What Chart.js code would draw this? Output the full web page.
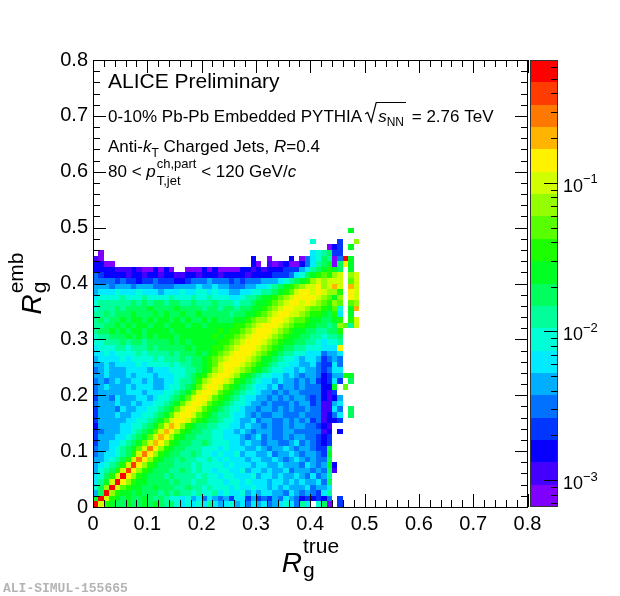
<!DOCTYPE html>
<html>
<head>
<meta charset="UTF-8">
<title>Rg emb vs Rg true</title>
<script src="https://cdn.jsdelivr.net/npm/chart.js"></script>
<style>
  html, body { margin: 0; padding: 0; background: #fff; }
  canvas { display: block; }
</style>
</head>
<body>
<canvas id="rgChart" width="620" height="596"></canvas>
<script>
// bin width in R_g^true and R_g^emb
const binWidth = 0.01;
// z (colour) axis range, log scale with 20 contour levels
const zMin = 6.6e-4;
const zMax = 0.67;
const nLevels = 20;
// colour level for every bin: 0-9 then a-j (0 = violet ... j = red), '.' = empty
// one row per R_g^emb bin, top row (0.49-0.50) first; 5 groups of 10 columns, R_g^true = 0.00 ... 0.49
const levelRows = [
  ['..........', '..........', '..........', '..........', '.......a..'],
  ['..........', '..........', '..........', '..........', '..........'],
  ['..........', '..........', '..........', '..........', '7....3..d.'],
  ['..........', '..........', '..........', '..........', '...023.a..'],
  ['.0........', '..........', '..........', '..........', '678933....'],
  ['10........', '..........', '.........2', '..0...2.04', '679804ja..'],
  ['2200......', '..........', '.........2', '0.10120024', '689a09fa..'],
  ['2222111210', '02020..000', '2020000221', '2122233356', '89aba9.a..'],
  ['4322221221', '2212211221', '2221222212', '2223334679', 'abcbde.de.'],
  ['4444343323', '3433322344', '4544434344', '45556789ab', 'dedeee.ce.'],
  ['5554555455', '5444455556', '5565544455', '66789abcde', 'efdege.ge.'],
  ['5666766676', '6656667667', '7676655667', '7889abceff', 'efeddb.fe.'],
  ['6777787778', '7777877787', '7877766788', '9aabcdefff', 'fedcad.fe.'],
  ['7888888989', '8998998898', '8898887889', 'aabcdeffef', 'edcbdc.cd.'],
  ['7888989999', 'a9999a9999', '899899899a', 'abcdeffeed', 'ccbac7.ag.'],
  ['8898999a99', '9a9a99a99a', '99999899aa', 'bcdeffeedc', 'bba9b6.a..'],
  ['89899a9aa9', 'a9aa9a9a99', 'a9a999aabc', 'ddeffedccb', 'aa99ab.be.'],
  ['8899a9a9aa', '9aa9aaa9aa', '9aaaaabbcd', 'efffedcbba', 'a9989dc8e.'],
  ['899a9a9aa9', 'aaaa9aaaaa', 'aaababbcde', 'fffedcbaa9', '98899b....'],
  ['788999a9a9', 'a9aaa9aaaa', 'aababbcdef', 'ffedcbaa99', '887889....'],
  ['7788898998', '9999a9a9aa', 'aaabbcdeff', 'fedcbaa998', '876778....'],
  ['6777887888', '9899999a9a', 'aabbcdefff', 'edcba99887', '77666f....'],
  ['6676777787', '888898999a', '9abcdefffe', 'dcba988776', '664556....'],
  ['5666676777', '7878889899', 'abcdefffed', 'caa9877656', '653454....'],
  ['5565666676', '7777878899', 'abcefffedc', 'ba98776655', '643364....'],
  ['4565556666', '5666777889', 'abdeffedcb', 'a987766565', '543466....'],
  ['5565556566', '656667789a', 'bdeffedba9', '8776656545', '542355ba..'],
  ['4545655665', '655667889b', 'deffedba98', '7665655454', '532363.9..'],
  ['4565556566', '65567789ac', 'effecba987', '6656455454', '4422a.c...'],
  ['4555556665', '6667789ace', 'ffecba9877', '6554545544', '44213.....'],
  ['3554655566', '567789acef', 'fecba98766', '5545454554', '342125....'],
  ['4555655656', '67789aceff', 'ecba987765', '5454445455', '341156....'],
  ['3555465566', '7789aceffe', 'cba9877655', '4554545445', '441164.9..'],
  ['3555655667', '789aceffec', 'ba98876654', '5445544454', '441246.9..'],
  ['3555556677', '89aceffecb', 'a998776556', '4554454545', '341223....'],
  ['2555566778', '9acegfdba9', '9887766565', '5454454554', '4321......'],
  ['3455566789', 'acegfdba99', '8877665654', '5554455444', '4412.2....'],
  ['355566789a', 'cegfdba998', '8877666545', '6454454554', '4323......'],
  ['35566789ac', 'egfdba9988', '9877766565', '5455445645', '4323......'],
  ['4556789ace', 'hfdba99888', '7776766655', '6545565455', '4339......'],
  ['4566789beh', 'fdba998898', '7767667566', '5564556545', '543a......'],
  ['556789behf', 'dba9989887', '7876766656', '6556545654', '5449......'],
  ['56789beifd', 'ba99988878', '7777676665', '6655655546', '545a2.....'],
  ['5789beifdb', 'a999889878', '7767766756', '6565564555', '45491.....'],
  ['679bejfdba', '9998988887', '8776776667', '5665655654', '6458......'],
  ['68aejfdbaa', '9999898878', '8777677676', '6656656565', '5649......'],
  ['79djecbaa9', '9a99988988', '7877767667', '6656565556', '4556......'],
  ['59jdbaa9a9', '9989898878', '7786766756', '5665546545', '4368......'],
  ['ajeba9a99a', '9898776756', '4654536635', '3435465423', '2324.3....'],
  ['jeba99a99a', '9a98976767', '6865675646', '5645676486', '.790.3....']
];
// axis tick values (both axes) and labelled decades of the colour axis
const axisTicks = [0, 0.1, 0.2, 0.3, 0.4, 0.5, 0.6, 0.7, 0.8];
const zTickExponents = [-3, -2, -1];

const FONT = '"Liberation Sans", Arial, Helvetica, sans-serif';
Chart.defaults.font.family = FONT;
Chart.defaults.color = '#000';

const levelChars = '0123456789abcdefghij';
// ROOT-like rainbow: violet -> red in 20 steps
const palette = Array.from({ length: nLevels }, (_, k) => `hsl(${270 - k * 270 / (nLevels - 1)}, 100%, 50%)`);
const levelOf = v => Math.max(0, Math.min(nLevels - 1, Math.floor(Math.log(v / zMin) / Math.log(zMax / zMin) * nLevels)));

// bin centres + contents
const cells = [];
levelRows.forEach((groups, i) => {
  const row = groups.join('');
  const yc = (levelRows.length - 1 - i + 0.5) * binWidth;
  for (let j = 0; j < row.length; j++) {
    const k = levelChars.indexOf(row[j]);
    if (k < 0) continue;
    cells.push({ x: (j + 0.5) * binWidth, y: yc, v: zMin * Math.pow(zMax / zMin, (k + 0.5) / nLevels) });
  }
});

function put(ctx, x, y, text, size, italic) {
  ctx.font = (italic ? 'italic ' : '') + size + 'px ' + FONT;
  ctx.fillText(text, x, y);
  return ctx.measureText(text).width;
}
function textW(ctx, text, size, italic) {
  ctx.font = (italic ? 'italic ' : '') + size + 'px ' + FONT;
  return ctx.measureText(text).width;
}
function seg(ctx, x0, y0, x1, y1) {
  ctx.beginPath();
  ctx.moveTo(x0, y0);
  ctx.lineTo(x1, y1);
  ctx.stroke();
}

const heatmap = {
  id: 'heatmap',
  beforeDatasetsDraw(chart) {
    const { ctx, scales: { x, y } } = chart;
    ctx.save();
    for (const c of chart.data.datasets[0].data) {
      const x0 = Math.round(x.getPixelForValue(c.x - binWidth / 2));
      const x1 = Math.round(x.getPixelForValue(c.x + binWidth / 2));
      const y0 = Math.round(y.getPixelForValue(c.y - binWidth / 2));
      const y1 = Math.round(y.getPixelForValue(c.y + binWidth / 2));
      ctx.fillStyle = palette[levelOf(c.v)];
      ctx.fillRect(x0, y1, x1 - x0, y0 - y1);
    }
    ctx.restore();
  },
  afterDraw(chart) {
    const { ctx, chartArea: a, scales: { x, y, z } } = chart;
    const L = Math.round(a.left), R = Math.round(a.right), T = Math.round(a.top), B = Math.round(a.bottom);
    ctx.save();
    ctx.strokeStyle = '#000';
    ctx.lineWidth = 1;

    // frame + inward ticks on all four sides
    ctx.strokeRect(L + 0.5, T + 0.5, R - L - 1, B - T);
    for (let i = 0; i <= 40; i++) {
      const len = i % 5 === 0 ? 13 : 7;
      const px = Math.round(x.getPixelForValue(i * 0.02)) + 0.5;
      const py = Math.round(y.getPixelForValue(i * 0.02)) + 0.5;
      seg(ctx, px, B, px, B - len);
      seg(ctx, px, T, px, T + len);
      seg(ctx, L, py, L + len, py);
      seg(ctx, R, py, R - len, py);
    }

    // colour bar
    const cbL = 530, cbR = 558;
    for (let k = 0; k < nLevels; k++) {
      const lo = zMin * Math.pow(zMax / zMin, k / nLevels);
      const hi = zMin * Math.pow(zMax / zMin, (k + 1) / nLevels);
      const y0 = Math.round(z.getPixelForValue(lo));
      const y1 = Math.round(z.getPixelForValue(hi));
      ctx.fillStyle = palette[k];
      ctx.fillRect(cbL, y1, cbR - cbL, y0 - y1);
    }
    ctx.strokeStyle = '#333';
    ctx.strokeRect(cbL + 0.5, Math.round(z.top) + 0.5, cbR - cbL - 1, Math.round(z.bottom - z.top) - 1);
    ctx.strokeStyle = '#000';
    for (let e = -4; e <= -1; e++) {
      for (let m = 1; m <= 9; m++) {
        const v = m * Math.pow(10, e);
        if (v < zMin || v > zMax) continue;
        const py = Math.round(z.getPixelForValue(v)) + 0.5;
        seg(ctx, cbR - 0.5, py, cbR - (m === 1 ? 14 : 7), py);
      }
    }
    ctx.fillStyle = '#000';
    ctx.textBaseline = 'alphabetic';
    ctx.textAlign = 'left';
    for (const e of zTickExponents) {
      const py = z.getPixelForValue(Math.pow(10, e));
      const w = put(ctx, 563, py + 9, '10', 18);
      put(ctx, 563 + w, py + 0.5, '\u2212' + Math.abs(e), 13);
    }

    // x axis title R_g^true
    {
      const rW = textW(ctx, 'R', 28, true);
      const tot = rW + 1 + Math.max(textW(ctx, 'true', 21), textW(ctx, 'g', 21));
      const tx = (L + R) / 2 - tot / 2;
      put(ctx, tx, 572, 'R', 28, true);
      put(ctx, tx + rW + 1, 553, 'true', 21);
      put(ctx, tx + rW + 1, 577, 'g', 21);
    }
    // y axis title R_g^emb (rotated)
    {
      ctx.save();
      ctx.translate(41, (T + B) / 2);
      ctx.rotate(-Math.PI / 2);
      const rW = textW(ctx, 'R', 28, true);
      const tot = rW + 1 + Math.max(textW(ctx, 'emb', 21), textW(ctx, 'g', 21));
      const tx = -tot / 2;
      put(ctx, tx, 0, 'R', 28, true);
      put(ctx, tx + rW + 1, -18, 'emb', 21);
      put(ctx, tx + rW + 1, 5, 'g', 21);
      ctx.restore();
    }

    // legend text
    const textX = 108;
    put(ctx, textX, 88, 'ALICE Preliminary', 21);
    {
      let tx = textX;
      const by = 121.5;
      tx += put(ctx, tx, by, '0-10% Pb-Pb Embedded PYTHIA', 17);
      tx += 3;
      // square root sign
      const sW = textW(ctx, 's', 17, true), nW = textW(ctx, 'NN', 12);
      ctx.lineWidth = 1.2;
      ctx.beginPath();
      ctx.moveTo(tx, 114);
      ctx.lineTo(tx + 2.5, 112.5);
      ctx.lineTo(tx + 6, 122);
      ctx.lineTo(tx + 11, 102.5);
      ctx.lineTo(tx + 13 + sW + nW + 2, 102.5);
      ctx.stroke();
      ctx.lineWidth = 1;
      tx += 13;
      tx += put(ctx, tx, by, 's', 17, true);
      tx += put(ctx, tx, by + 4, 'NN', 12) + 3;
      put(ctx, tx, by, ' = 2.76 TeV', 17);
    }
    {
      let tx = textX;
      const by = 151.5;
      tx += put(ctx, tx, by, 'Anti-', 17);
      tx += put(ctx, tx, by, 'k', 17, true);
      tx += put(ctx, tx, by + 5, 'T', 12);
      tx += put(ctx, tx, by, ' Charged Jets, ', 17);
      tx += put(ctx, tx, by, 'R', 17, true);
      put(ctx, tx, by, '=0.4', 17);
    }
    {
      let tx = textX;
      const by = 176.5;
      tx += put(ctx, tx, by, '80 < ', 17);
      tx += put(ctx, tx, by, 'p', 17, true) + 1;
      const w1 = put(ctx, tx, by - 8.5, 'ch,part', 13);
      const w2 = put(ctx, tx, by + 8.5, 'T,jet', 13);
      tx += Math.max(w1, w2);
      tx += put(ctx, tx, by, ' < 120 GeV/', 17);
      put(ctx, tx, by, 'c', 17, true);
    }

    // figure id
    ctx.fillStyle = '#b4b4b4';
    ctx.font = 'bold 13px "Liberation Mono", "DejaVu Sans Mono", monospace';
    ctx.fillText('ALI-SIMUL-155665', 3, 592);
    ctx.restore();
  }
};

const axisOpts = (fitSide) => ({
  type: 'linear',
  min: 0,
  max: 0.8,
  grid: { display: false, drawTicks: false },
  border: { display: false },
  afterBuildTicks: s => { s.ticks = axisTicks.map(v => ({ value: v })); },
  ticks: {
    autoSkip: false,
    maxRotation: 0,
    padding: 5,
    font: { size: 20 },
    color: '#000',
    callback: v => String(Math.round(v * 10) / 10)
  },
  afterFit: fitSide
});

new Chart(document.getElementById('rgChart'), {
  type: 'scatter',
  data: { datasets: [{ data: cells, pointRadius: 0, pointHoverRadius: 0 }] },
  options: {
    responsive: false,
    animation: false,
    events: [],
    layout: { padding: { top: 60, right: 92.5, left: 0, bottom: 0 } },
    plugins: { legend: { display: false }, tooltip: { enabled: false } },
    scales: {
      x: Object.assign(axisOpts(s => { s.height = 89; }), { position: 'bottom' }),
      y: Object.assign(axisOpts(s => { s.width = 93; }), { position: 'left' }),
      z: { type: 'logarithmic', position: 'right', display: false, min: zMin, max: zMax }
    }
  },
  plugins: [heatmap]
});
</script>
</body>
</html>
